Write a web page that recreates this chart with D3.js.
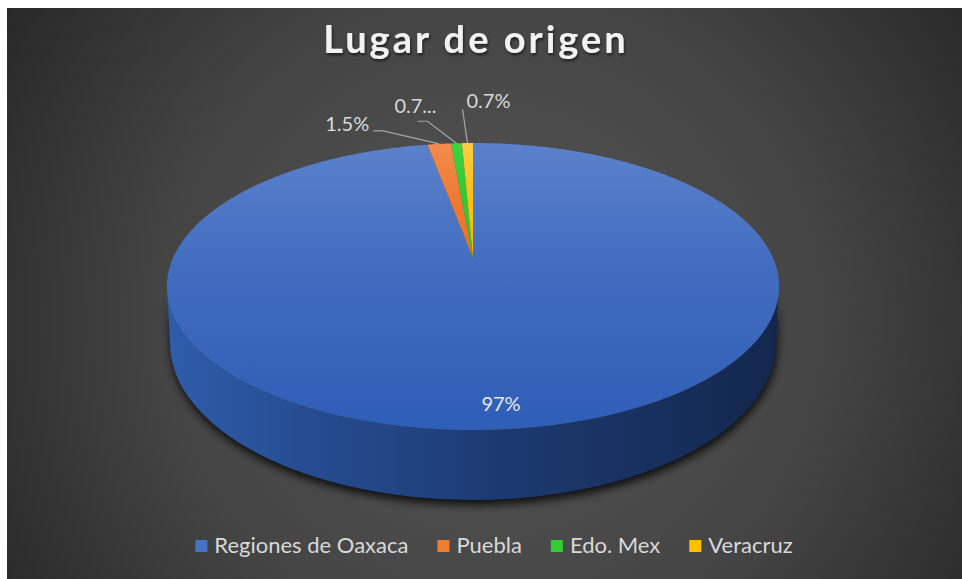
<!DOCTYPE html>
<html>
  <head>
    <meta charset="utf-8" />
    <script src="https://d3js.org/d3.v7.min.js"></script>
    <style>
      body { margin: 0; background: #ffffff; }
      svg { display: block; }
      text { font-family: Lato, "Open Sans", sans-serif; }
    </style>
  </head>
  <body>
    <svg id="chart"></svg>

    <script>
      // data
      var categories = ["Regiones de Oaxaca", "Puebla", "Edo. Mex", "Veracruz"];
      var values = [97, 1.5, 0.7, 0.7];
      var labels = ["97%", "1.5%", "0.7...", "0.7%"];
      var palette = ["#4472c4", "#ed7d31", "#33cc33", "#ffc000"];
      var title = "Lugar de origen";

      var width = 962;
      var height = 579;

      var svg = d3.select("#chart").attr("width", width).attr("height", height);
      var defs = svg.append("defs");

      var color = d3.scaleOrdinal().domain(categories).range(palette);

      // background gradient
      var bg = defs.append("radialGradient").attr("id", "bg")
        .attr("gradientUnits", "userSpaceOnUse")
        .attr("cx", 495).attr("cy", 320).attr("r", 610);
      bg.append("stop").attr("offset", "0%").attr("stop-color", "#565656");
      bg.append("stop").attr("offset", "55%").attr("stop-color", "#444444");
      bg.append("stop").attr("offset", "100%").attr("stop-color", "#252525");

      svg.append("rect")
        .attr("x", 7).attr("y", 8)
        .attr("width", width - 7).attr("height", height - 8)
        .attr("fill", "url(#bg)");

      // title
      var shadow = defs.append("filter").attr("id", "tshadow")
        .attr("x", "-10%").attr("y", "-30%").attr("width", "120%").attr("height", "160%");
      shadow.append("feDropShadow").attr("dx", 1).attr("dy", 2)
        .attr("stdDeviation", 1.5).attr("flood-color", "#000").attr("flood-opacity", 0.6);

      svg.append("text")
        .attr("x", 476).attr("y", 53)
        .attr("text-anchor", "middle")
        .attr("font-size", 38)
        .attr("font-weight", "bold")
        .attr("letter-spacing", 3)
        .attr("fill", "#f2f2f2")
        .attr("filter", "url(#tshadow)")
        .text(title);

      // 3d pie: the top face is the unit circle seen in perspective
      // x = x0 + A*u/w, y = y0 + B*v/w, w = 1 - c*v  (v = -1 far edge, +1 near edge)
      var persp = { x0: 473, y0: 258, A: 300, B: 137.8, c: 0.1986 };
      function pt(a) {
        var u = Math.sin(a), v = -Math.cos(a);
        var w = 1 - persp.c * v;
        return [persp.x0 + persp.A * u / w, persp.y0 + persp.B * v / w];
      }
      // silhouette of the face and of the bottom rim
      var faceE = { cx: 473, cy: 286.5, rx: 306, ry: 143.5 };
      var rimE = { cx: 473, cy: 343, rx: 303, ry: 157 };

      var pie = d3.pie().sort(null).value(function (d) { return d.value; });
      var data = categories.map(function (c, i) {
        return { name: c, value: values[i], label: labels[i] };
      });
      var arcs = pie(data);

      // shadow under the disc
      var blur = defs.append("filter").attr("id", "pshadow")
        .attr("x", "-10%").attr("y", "-10%").attr("width", "120%").attr("height", "130%");
      blur.append("feGaussianBlur").attr("stdDeviation", 4);

      var wallPath =
        "M" + (faceE.cx - faceE.rx) + "," + faceE.cy +
        " A" + faceE.rx + "," + faceE.ry + " 0 0 0 " + (faceE.cx + faceE.rx) + "," + faceE.cy +
        " L" + (rimE.cx + rimE.rx) + "," + rimE.cy +
        " A" + rimE.rx + "," + rimE.ry + " 0 0 1 " + (rimE.cx - rimE.rx) + "," + rimE.cy + " Z";

      svg.append("path")
        .attr("d", wallPath)
        .attr("transform", "translate(1,5)")
        .attr("fill", "#000")
        .attr("opacity", 0.8)
        .attr("filter", "url(#pshadow)");

      // side wall (only the big slice shows in front)
      var wg = defs.append("linearGradient").attr("id", "wall")
        .attr("x1", "0%").attr("x2", "100%").attr("y1", "0%").attr("y2", "0%");
      wg.append("stop").attr("offset", "0%").attr("stop-color", "#2f5daa");
      wg.append("stop").attr("offset", "22%").attr("stop-color", "#264d92");
      wg.append("stop").attr("offset", "55%").attr("stop-color", "#1c3a70");
      wg.append("stop").attr("offset", "100%").attr("stop-color", "#13274e");

      svg.append("path").attr("d", wallPath).attr("fill", "url(#wall)");

      // top face gradients per slice
      var lightTop = { "Regiones de Oaxaca": "#5b81cb", "Puebla": "#f28c4e", "Edo. Mex": "#3fd13f", "Veracruz": "#ffcb4a" };
      var darkBottom = { "Regiones de Oaxaca": "#2f5eb7", "Puebla": "#ec6f22", "Edo. Mex": "#2cc42c", "Veracruz": "#f7b800" };
      arcs.forEach(function (d, i) {
        var g = defs.append("linearGradient").attr("id", "top" + i)
          .attr("x1", "0%").attr("x2", "0%").attr("y1", "0%").attr("y2", "100%");
        g.append("stop").attr("offset", "0%").attr("stop-color", lightTop[d.data.name]);
        g.append("stop").attr("offset", "45%").attr("stop-color", d3.interpolateRgb(lightTop[d.data.name], darkBottom[d.data.name])(0.6));
        g.append("stop").attr("offset", "100%").attr("stop-color", darkBottom[d.data.name]);
      });

      var line = d3.line();
      function slicePath(d) {
        var n = Math.max(2, Math.ceil((d.endAngle - d.startAngle) / 0.01));
        var pts = [[persp.x0, persp.y0]];
        d3.range(n + 1).forEach(function (k) {
          pts.push(pt(d.startAngle + (d.endAngle - d.startAngle) * k / n));
        });
        return line(pts) + "Z";
      }

      svg.append("g")
        .selectAll("path")
        .data(arcs)
        .join("path")
        .attr("d", slicePath)
        .attr("fill", function (d, i) { return "url(#top" + i + ")"; });

      // data labels
      var labelG = svg.append("g");

      // big slice label sits on the face
      labelG.append("text")
        .attr("x", 501).attr("y", 411)
        .attr("text-anchor", "middle")
        .attr("font-size", 20)
        .attr("fill", "#e8e8e8")
        .text(arcs[0].data.label);

      // small slices: leader line from outer edge mid point to label
      var leaders = {
        "Puebla": { knee: [-56, -13], end: [-66, -13], text: [-70, -13], anchor: "end" },
        "Edo. Mex": { knee: [-29, -22], end: [-39, -22], text: [-20, -30], anchor: "end" },
        "Veracruz": { knee: [-5, -34], end: [-5, -34], text: [-1, -35], anchor: "start" }
      };

      arcs.slice(1).forEach(function (d) {
        var m = pt((d.startAngle + d.endAngle) / 2);
        var L = leaders[d.data.name];
        labelG.append("path")
          .attr("d", line([
            [m[0] + L.end[0], m[1] + L.end[1]],
            [m[0] + L.knee[0], m[1] + L.knee[1]],
            m
          ]))
          .attr("fill", "none")
          .attr("stroke", "#a6a6a6")
          .attr("stroke-width", 1.2);
        labelG.append("text")
          .attr("x", m[0] + L.text[0]).attr("y", m[1] + L.text[1])
          .attr("text-anchor", L.anchor)
          .attr("font-size", 20)
          .attr("fill", "#d9d9d9")
          .text(d.data.label);
      });

      // legend
      var legend = svg.append("g");
      var items = legend.selectAll("g")
        .data(categories)
        .join("g");
      items.append("rect")
        .attr("width", 12).attr("height", 12)
        .attr("y", -13)
        .attr("fill", function (d) { return color(d); });
      items.append("text")
        .attr("x", 19)
        .attr("y", 0)
        .attr("font-size", 22)
        .attr("fill", "#d9d9d9")
        .text(function (d) { return d; });

      var x = 0;
      items.each(function () {
        var w = this.querySelector("text").getComputedTextLength();
        d3.select(this).attr("transform", "translate(" + x + ",0)");
        x += 19 + w + 29;
      });
      var total = x - 29;
      legend.attr("transform", "translate(" + (494 - total / 2) + ",553)");
    </script>
  </body>
</html>
